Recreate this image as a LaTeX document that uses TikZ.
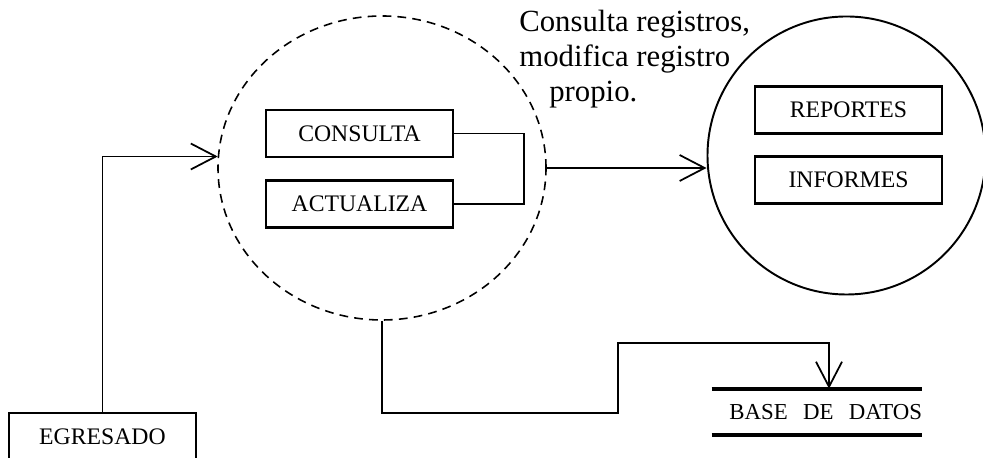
\documentclass[tikz,border=0pt]{standalone}
\usepackage{fontspec}
\setmainfont{Liberation Serif}
\usetikzlibrary{shapes.geometric,arrows.meta,calc}

\begin{document}
\begin{tikzpicture}[
    caja/.style={draw, line width=1.2pt, minimum width=3.74cm, minimum height=0.94cm, inner sep=0pt, font=\fontsize{13.5}{15}\selectfont},
    linea/.style={line width=1pt},
    flecha/.style={line width=1pt, -{Straight Barb[length=0.5cm,width=0.52cm]}}
]

    % Marco
    \useasboundingbox (0,0) rectangle (19.66,9.16);

    % Proceso central
    \node[ellipse, draw, dash pattern=on 5pt off 3.5pt, line width=0.9pt, minimum width=6.56cm, minimum height=6.08cm, inner sep=0pt] (proc) at (7.64,5.80) {};
    \node[caja] (cons) at (7.19,6.49) {CONSULTA};
    \node[caja] (act) at (7.19,5.08) {ACTUALIZA};
    \draw[linea] (cons.east) -- ++(1.4,0) |- (act.east);

    % Salidas
    \node[circle, draw, line width=1.1pt, minimum size=5.56cm, inner sep=0pt] (sal) at (16.93,6.05) {};
    \node[caja] (rep) at (16.97,6.96) {REPORTES};
    \node[caja] (inf) at (16.97,5.56) {INFORMES};

    % Texto del flujo
    \node[anchor=base west, align=left, inner sep=0pt, font=\fontsize{17.5}{20}\selectfont] (txt) at (10.38,7.12) {Consulta registros,\\modifica registro\\\hspace*{0.6cm}propio.};

    % Entidad y almacen
    \node[caja] (egr) at (2.05,0.43) {EGRESADO};
    \node[text width=4.2cm, align=right, inner xsep=0pt, minimum height=0.92cm, font=\fontsize{13}{15}\selectfont] (db) at (16.34,0.92) {BASE\ \ DE\ \ DATOS};
    \draw[line width=2.3pt] (db.north west) -- (db.north east);
    \draw[line width=2.3pt] (db.south west) -- (db.south east);

    % Flujos
    \draw[flecha] (egr.north) |- (proc.176);
    \draw[flecha] (proc.east) -- (proc.east -| sal.west);
    \coordinate (k1) at (12.36,0.90);
    \coordinate (k2) at (12.36,2.30);
    \draw[flecha] (proc.south) |- (k1) -- (k2) -| ($(db.north)+(0.24,0)$);

\end{tikzpicture}
\end{document}
